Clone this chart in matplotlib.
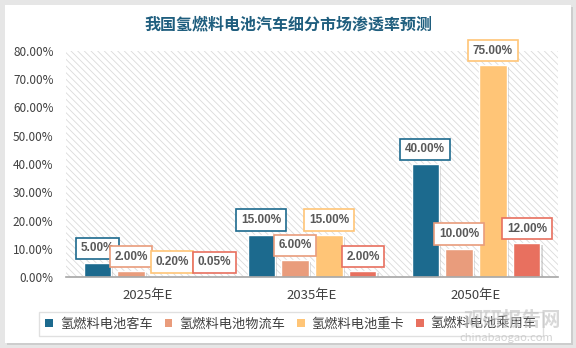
import numpy as np
import matplotlib
matplotlib.use("Agg")
import matplotlib.pyplot as plt
import matplotlib.patheffects as pe
from matplotlib.patches import Rectangle, Patch

plt.rcParams['font.family'] = ['Noto Sans CJK SC', 'DejaVu Sans']
plt.rcParams['hatch.linewidth'] = 0.6

# 数据
title = "我国氢燃料电池汽车细分市场渗透率预测"
categories = ["2025年E", "2035年E", "2050年E"]
series_names = ["氢燃料电池客车", "氢燃料电池物流车", "氢燃料电池重卡", "氢燃料电池乘用车"]
bus = [5.00, 15.00, 40.00]
logistics = [2.00, 6.00, 10.00]
heavy_truck = [0.20, 15.00, 75.00]
passenger = [0.05, 2.00, 12.00]
yticks = [0, 10, 20, 30, 40, 50, 60, 70, 80]

colors = ["#1C6A8E", "#E99C7C", "#FFC577", "#E8705F"]
series = [bus, logistics, heavy_truck, passenger]
# 标签水平偏移(pt), 避免2025年小数值标签重叠
label_dx = [[0, 0, 0], [0, 0, 0], [5, 0, 0], [11, 0, 0]]

fig = plt.figure(figsize=(5.76, 3.48), dpi=100)
fig.patch.set_facecolor("#E6E6E6")
# 白色面板
panel = Rectangle((5 / 576, 5 / 348), 566 / 576, 338 / 348, transform=fig.transFigure,
                  facecolor="white", edgecolor="none", zorder=-10)
panel.set_path_effects([pe.SimplePatchShadow(offset=(1.5, -1.5), shadow_rgbFace="#BDBDBD", alpha=0.6),
                        pe.Normal()])
fig.patches.append(panel)

ax = fig.add_axes([66 / 576, 71 / 348, 492 / 576, 226 / 348])
ax.set_zorder(1)
ax.patch.set_facecolor("white")
ax.patch.set_hatch("\\\\\\\\\\")
ax.patch.set_edgecolor("#DADADA")
ax.patch.set_linewidth(0)

x = np.arange(len(categories))
width = 0.165
step = 0.207
offsets = (np.arange(4) - 1.5) * step

for i, (vals, c) in enumerate(zip(series, colors)):
    bars = ax.bar(x + offsets[i], vals, width, color=c, edgecolor="white", linewidth=1.0, zorder=3)
    for b in bars:
        b.set_path_effects([pe.SimplePatchShadow(offset=(2, -1.5), shadow_rgbFace="#808080", alpha=0.3),
                            pe.Normal()])
    for j, (xi, v) in enumerate(zip(x + offsets[i], vals)):
        ax.annotate(f"{v:.2f}%", (xi, v), xytext=(label_dx[i][j], 10.5), textcoords="offset points",
                    ha="center", va="center", fontsize=8.5, fontweight="bold", color="#595959",
                    family=["Liberation Sans"], zorder=5,
                    bbox=dict(boxstyle="square,pad=0.4", fc="white", ec=c, lw=1.2))

ax.set_xlim(-0.5, 2.5)
ax.set_ylim(0, 80)
ax.set_yticks(yticks)
ax.set_yticklabels([f"{t:.2f}%" for t in yticks], fontsize=8.5, color="#404040")
ax.set_xticks(x)
ax.set_xticklabels(categories, fontsize=9.5, color="#404040")
ax.tick_params(axis="y", length=0, pad=9)
ax.tick_params(axis="x", length=0, pad=9)
for s in ["top", "right", "left"]:
    ax.spines[s].set_visible(False)
ax.spines["bottom"].set_color("#A6A6A6")
ax.spines["bottom"].set_linewidth(1.2)
ax.spines["bottom"].set_zorder(4)

fig.text(0.5, 1 - 24 / 348, title, ha="center", va="center", fontsize=11.5,
         fontweight="bold", color="#1F5E7E")

handles = [Patch(facecolor=c, edgecolor="none") for c in colors]
leg = fig.legend(handles, series_names, loc="center", bbox_to_anchor=(291 / 576, 24 / 348),
                 ncol=4, fontsize=9.5, frameon=True, fancybox=False, handlelength=0.6,
                 handleheight=0.6, handletextpad=0.5, columnspacing=0.9, borderpad=0.45)
leg.get_frame().set_edgecolor("#D9D9D9")
leg.get_frame().set_linewidth(1.0)
for t in leg.get_texts():
    t.set_color("#404040")

# 水印
fig.text(512 / 576, 1 - 320 / 348, "观研报告网", ha="center", va="center", fontsize=14,
         fontweight="bold", color="#BFBFBF", alpha=0.6, zorder=10)
fig.text(506 / 576, 1 - 338 / 348, "chinabaogao.com", ha="center", va="center", fontsize=8,
         color="#BFBFBF", alpha=0.7, zorder=10)

fig.savefig("out.png", dpi=100, facecolor=fig.get_facecolor())
